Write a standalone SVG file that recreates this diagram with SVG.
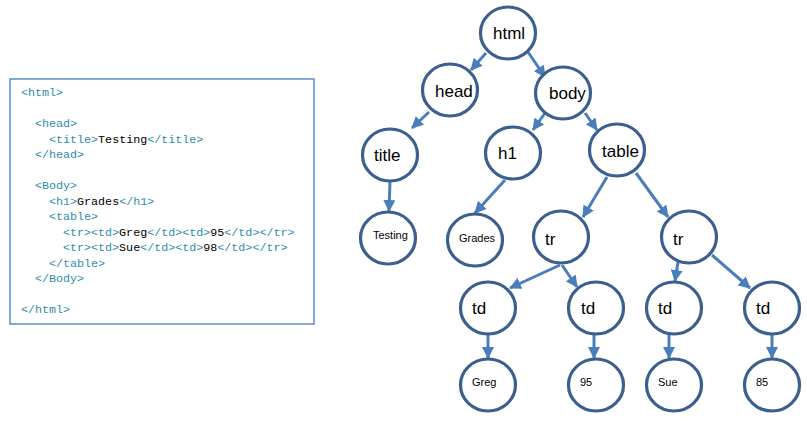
<svg xmlns="http://www.w3.org/2000/svg" width="807" height="421" viewBox="0 0 807 421">
<defs>
<marker id="ah" markerUnits="userSpaceOnUse" markerWidth="12" markerHeight="12" viewBox="0 0 12 12" refX="11" refY="6" orient="auto">
<path d="M0,0 L12,6 L0,12 z" fill="#4a7ebb"/>
</marker>
</defs>
<style>
.n ellipse{fill:#fff;stroke:#3b5f8e;stroke-width:3.2}
.n text{font-family:"Liberation Sans",Arial,sans-serif;fill:#000}
.big{font-size:17px}
.sm{font-size:11px}
#edges line{stroke:#4a7ebb;stroke-width:3;marker-end:url(#ah)}
.code{font-family:"Liberation Mono","DejaVu Sans Mono",monospace;font-size:11.7px;fill:#2e8cad;white-space:pre}
.code tspan.c{fill:#000}
</style>
<rect x="0" y="0" width="807" height="421" fill="#fff"/>
<g id="code">
<rect x="10" y="79" width="304" height="245" fill="#fff" stroke="#5b8fc7" stroke-width="1.5"/>
<text class="code" x="21" y="96">&lt;html&gt;</text>
<text class="code" x="35" y="127">&lt;head&gt;</text>
<text class="code" x="49" y="142.5">&lt;title&gt;<tspan class="c">Testing</tspan>&lt;/title&gt;</text>
<text class="code" x="35" y="158">&lt;/head&gt;</text>
<text class="code" x="35" y="189">&lt;Body&gt;</text>
<text class="code" x="49" y="204.5">&lt;h1&gt;<tspan class="c">Grades</tspan>&lt;/h1&gt;</text>
<text class="code" x="49" y="220">&lt;table&gt;</text>
<text class="code" x="63" y="235.5">&lt;tr&gt;&lt;td&gt;<tspan class="c">Greg</tspan>&lt;/td&gt;&lt;td&gt;<tspan class="c">95</tspan>&lt;/td&gt;&lt;/tr&gt;</text>
<text class="code" x="63" y="251">&lt;tr&gt;&lt;td&gt;<tspan class="c">Sue</tspan>&lt;/td&gt;&lt;td&gt;<tspan class="c">98</tspan>&lt;/td&gt;&lt;/tr&gt;</text>
<text class="code" x="49" y="266.5">&lt;/table&gt;</text>
<text class="code" x="35" y="282">&lt;/Body&gt;</text>
<text class="code" x="21" y="313">&lt;/html&gt;</text>
</g>
<g id="edges">
<line x1="486" y1="53" x2="471" y2="70"/>
<line x1="528" y1="52" x2="545" y2="77"/>
<line x1="429" y1="112" x2="412" y2="128"/>
<line x1="545" y1="113" x2="533" y2="130"/>
<line x1="585" y1="113" x2="597" y2="130"/>
<line x1="390" y1="181" x2="389" y2="211"/>
<line x1="505" y1="180" x2="475" y2="213"/>
<line x1="607" y1="177" x2="583" y2="217"/>
<line x1="636" y1="173" x2="668" y2="217"/>
<line x1="560" y1="265" x2="510" y2="288"/>
<line x1="562" y1="265" x2="577" y2="287"/>
<line x1="678" y1="262" x2="675" y2="281"/>
<line x1="712" y1="255" x2="750" y2="288"/>
<line x1="488" y1="334" x2="488" y2="358"/>
<line x1="594" y1="335" x2="594" y2="358"/>
<line x1="669" y1="334" x2="669" y2="358"/>
<line x1="772" y1="334" x2="772" y2="358"/>
</g>
<g id="n-html" class="n"><ellipse cx="508" cy="33" rx="27.5" ry="26"/><text class="big" x="493" y="39">html</text></g>
<g id="n-head" class="n"><ellipse cx="450" cy="90" rx="27.5" ry="26"/><text class="big" x="435" y="97">head</text></g>
<g id="n-body" class="n"><ellipse cx="563" cy="93" rx="27.5" ry="26"/><text class="big" x="549" y="99">body</text></g>
<g id="n-title" class="n"><ellipse cx="390" cy="155" rx="27.5" ry="26"/><text class="big" x="374" y="161">title</text></g>
<g id="n-h1" class="n"><ellipse cx="513" cy="153" rx="27.5" ry="26"/><text class="big" x="498" y="159">h1</text></g>
<g id="n-table" class="n"><ellipse cx="617" cy="150" rx="27.5" ry="26"/><text class="big" x="602" y="157">table</text></g>
<g id="n-testing" class="n"><ellipse cx="388" cy="238" rx="27.5" ry="26"/><text class="sm" x="373" y="239">Testing</text></g>
<g id="n-grades" class="n"><ellipse cx="475" cy="240" rx="27.5" ry="26"/><text class="sm" x="459" y="242">Grades</text></g>
<g id="n-tr1" class="n"><ellipse cx="561" cy="237" rx="27.5" ry="26"/><text class="big" x="545" y="245">tr</text></g>
<g id="n-tr2" class="n"><ellipse cx="689" cy="237" rx="27.5" ry="26"/><text class="big" x="673" y="245">tr</text></g>
<g id="n-td1" class="n"><ellipse cx="488" cy="308" rx="27.5" ry="26"/><text class="big" x="472" y="314">td</text></g>
<g id="n-td2" class="n"><ellipse cx="596" cy="308" rx="27.5" ry="26"/><text class="big" x="581" y="314">td</text></g>
<g id="n-td3" class="n"><ellipse cx="674" cy="308" rx="27.5" ry="26"/><text class="big" x="658" y="314">td</text></g>
<g id="n-td4" class="n"><ellipse cx="772" cy="308" rx="27.5" ry="26"/><text class="big" x="756" y="314">td</text></g>
<g id="n-greg" class="n"><ellipse cx="488" cy="385" rx="27.5" ry="26"/><text class="sm" x="472" y="386">Greg</text></g>
<g id="n-95" class="n"><ellipse cx="596" cy="385" rx="27.5" ry="26"/><text class="sm" x="580" y="386">95</text></g>
<g id="n-sue" class="n"><ellipse cx="674" cy="385" rx="27.5" ry="26"/><text class="sm" x="658" y="386">Sue</text></g>
<g id="n-85" class="n"><ellipse cx="772" cy="385" rx="27.5" ry="26"/><text class="sm" x="756" y="386">85</text></g>
</svg>
